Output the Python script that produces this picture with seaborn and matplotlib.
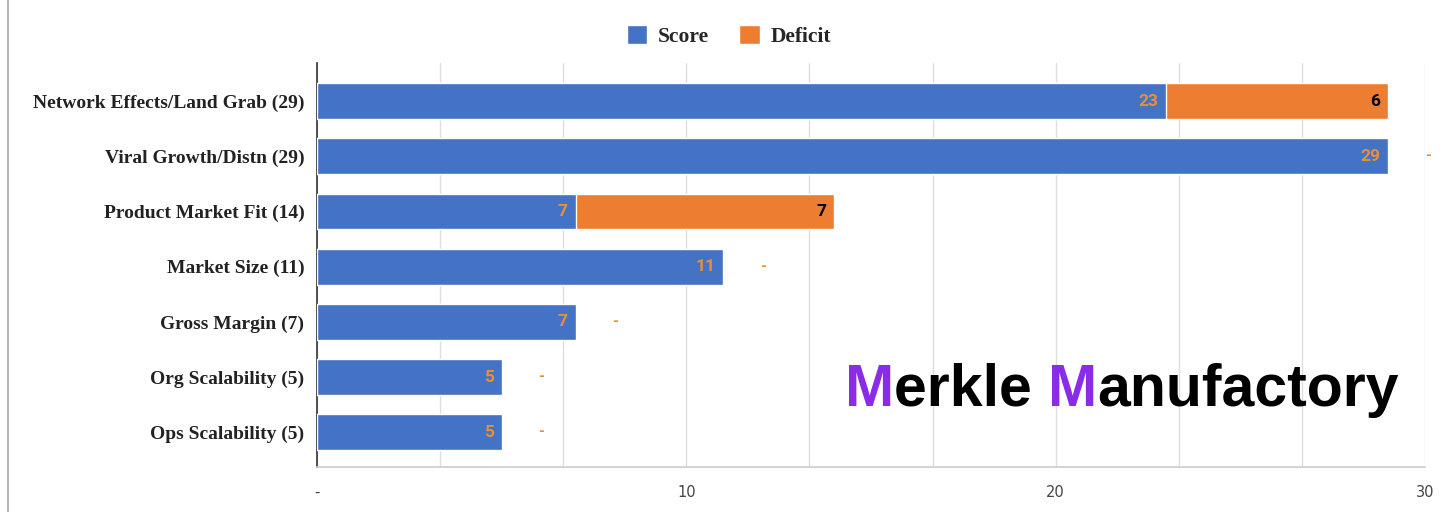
import numpy as np
import pandas as pd
import matplotlib
matplotlib.use("Agg")
import matplotlib.pyplot as plt
from matplotlib.ticker import MultipleLocator, FixedLocator
from matplotlib.patches import Patch
import seaborn as sns

# data
categories = ["Network Effects/Land Grab (29)", "Viral Growth/Distn (29)",
              "Product Market Fit (14)", "Market Size (11)", "Gross Margin (7)",
              "Org Scalability (5)", "Ops Scalability (5)"]
score = [23, 29, 7, 11, 7, 5, 5]
deficit = [6, 0, 7, 0, 0, 0, 0]

BLUE = "#4472C4"
ORANGE = "#ED7D31"
LABEL_ORANGE = "#E69138"
PURPLE = "#8A2BE8"

df = pd.DataFrame({"category": categories, "score": score, "deficit": deficit})
df["total"] = df["score"] + df["deficit"]

sns.set_style("white")
fig = plt.figure(figsize=(14.48, 5.12), dpi=100)
ax = fig.add_axes([317 / 1448, 1 - 467 / 512, (1425 - 317) / 1448, (467 - 63) / 512])

# stacked bars: total in orange, score on top in blue
sns.barplot(data=df, y="category", x="total", orient="h", color=ORANGE,
            width=0.65, saturation=1, ax=ax, zorder=3)
sns.barplot(data=df, y="category", x="score", orient="h", color=BLUE,
            width=0.65, saturation=1, ax=ax, zorder=4)

ax.set_xlim(0, 30)
ax.set_ylim(6.63, -0.69)
ax.set_xlabel("")
ax.set_ylabel("")

# grid
ax.xaxis.set_major_locator(FixedLocator([0, 10, 20, 30]))
ax.xaxis.set_minor_locator(MultipleLocator(10 / 3))
ax.grid(axis="x", which="both", color="#dedede", linewidth=1, zorder=0)
ax.set_axisbelow(True)
ax.set_xticklabels(["-", "10", "20", "30"], fontsize=10.5, color="#444444",
                   fontfamily="Liberation Sans Narrow")
ax.tick_params(axis="x", which="both", length=0, pad=13)
ax.tick_params(axis="y", length=0, pad=9)
for lab in ax.get_yticklabels():
    lab.set_fontfamily("Liberation Serif")
    lab.set_fontweight("bold")
    lab.set_fontsize(14)
    lab.set_color("#222222")

for side in ["top", "right"]:
    ax.spines[side].set_visible(False)
ax.spines["left"].set_color("#333333")
ax.spines["left"].set_linewidth(1.2)
ax.spines["bottom"].set_color("#cccccc")
ax.spines["bottom"].set_linewidth(1.2)

# value labels
off = 8 / ((1425 - 317) / 30)
for i, row in df.iterrows():
    ax.text(row["score"] - off, i, str(row["score"]), ha="right", va="center",
            fontsize=12.5, fontweight="bold", color=LABEL_ORANGE,
            fontfamily="Roboto", zorder=5)
    if row["deficit"] > 0:
        ax.text(row["total"] - off, i, str(row["deficit"]), ha="right", va="center",
                fontsize=12.5, fontweight="bold", color="black",
                fontfamily="Roboto", zorder=5)
    else:
        ax.text(row["total"] + 1.08, i, "-", ha="center", va="center",
                fontsize=11, fontweight="bold", color=LABEL_ORANGE,
                fontfamily="Roboto", zorder=5)

# legend
handles = [Patch(facecolor=BLUE, label="Score"), Patch(facecolor=ORANGE, label="Deficit")]
fig.legend(handles=handles, loc="center", bbox_to_anchor=(729 / 1448, 1 - 36 / 512),
           ncol=2, frameon=False, handlelength=0.95, handleheight=0.95,
           handletextpad=0.5, columnspacing=1.4,
           prop={"family": "Liberation Serif", "weight": "bold", "size": 15.5})

# watermark
wm_y = 1 - 390 / 512
wm_size = 42.5
t1 = fig.text(845 / 1448, wm_y, "M", color=PURPLE, fontsize=wm_size, fontweight="bold",
              fontfamily="Liberation Sans", ha="left", va="center", zorder=10)
fig.canvas.draw()
rend = fig.canvas.get_renderer()
x2 = t1.get_window_extent(rend).x1 / fig.bbox.width
t2 = fig.text(x2, wm_y, "erkle ", color="black", fontsize=wm_size, fontweight="bold",
              fontfamily="Liberation Sans", ha="left", va="center", zorder=10)
x3 = t2.get_window_extent(rend).x1 / fig.bbox.width
t3 = fig.text(x3, wm_y, "M", color=PURPLE, fontsize=wm_size, fontweight="bold",
              fontfamily="Liberation Sans", ha="left", va="center", zorder=10)
x4 = t3.get_window_extent(rend).x1 / fig.bbox.width
fig.text(x4, wm_y, "anufactory", color="black", fontsize=wm_size, fontweight="bold",
         fontfamily="Liberation Sans", ha="left", va="center", zorder=10)

# page border on the left
fig.add_artist(plt.Line2D([8 / 1448, 8 / 1448], [0, 1], color="#aaaaaa", linewidth=1.2))

fig.savefig("out.png", dpi=100, facecolor="white")
